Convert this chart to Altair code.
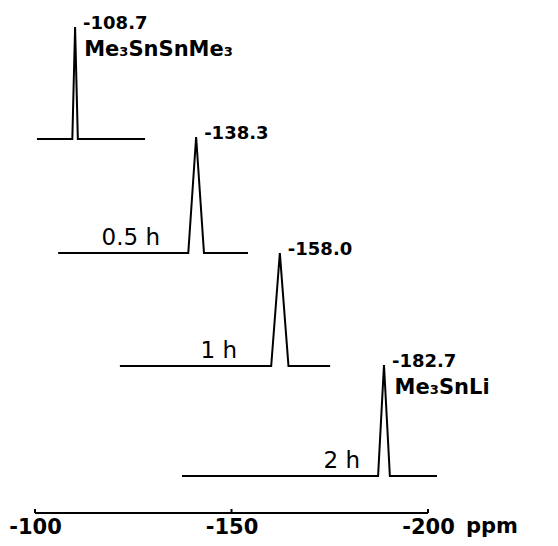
import altair as alt
import pandas as pd

# ---- data (x in ppm on the bottom axis scale, y in arbitrary stack units)
spectrum_ids = [1, 2, 3, 4]
shift_labels = ["-108.7", "-138.3", "-158.0", "-182.7"]
time_labels = ["", "0.5 h", "1 h", "2 h"]
time_label_x = [None, -131.8, -151.4, -182.7]
compound_labels = ["Me₃SnSnMe₃", "", "", "Me₃SnLi"]
compound_x = [-112.5, None, None, -191.5]
compound_y = [463, None, None, 125]
baseline_level = [374, 260, 147, 37]
baseline_start = [-100.5, -105.9, -121.6, -137.4]
baseline_end = [-128.0, -154.2, -175.1, -202.3]
peak_pos = [-110.2, -141.0, -162.3, -188.8]
peak_halfwidth = [0.7, 2.0, 2.2, 1.5]
peak_top = [486, 376, 260, 148]

axis_ticks = [-100, -150, -200]
axis_start, axis_end = -100, -200

# ---- tables built from the arrays
line_rows = []
for i, sid in enumerate(spectrum_ids):
    pts = [
        (baseline_start[i], baseline_level[i]),
        (peak_pos[i] + peak_halfwidth[i], baseline_level[i]),
        (peak_pos[i], peak_top[i]),
        (peak_pos[i] - peak_halfwidth[i], baseline_level[i]),
        (baseline_end[i], baseline_level[i]),
    ]
    for k, (x, y) in enumerate(pts):
        line_rows.append({"spec": sid, "order": k, "ppm": x, "y": y})
lines_df = pd.DataFrame(line_rows)

peaks_df = pd.DataFrame({"ppm": peak_pos, "y": peak_top, "label": shift_labels})
time_df = pd.DataFrame({"ppm": time_label_x, "y": baseline_level, "label": time_labels}).dropna()
time_df = time_df[time_df["label"] != ""]
comp_df = pd.DataFrame({"ppm": compound_x, "y": compound_y, "label": compound_labels}).dropna()
axis_df = pd.DataFrame({"ppm": [axis_start], "ppm2": [axis_end], "y": [0]})
ticks_df = pd.DataFrame({"ppm": axis_ticks, "y": [0] * 3, "y2": [4] * 3})
ppm_df = pd.DataFrame({"ppm": [axis_end], "y": [0], "label": ["ppm"]})

W, H = 393, 503
xscale = alt.Scale(domain=[axis_start, axis_end], nice=False, zero=False)
yscale = alt.Scale(domain=[0, H], nice=False, zero=False)

FONT = "DejaVu Sans"

xaxis = alt.Axis(
    values=axis_ticks, domain=False, ticks=False, grid=False, title=None,
    labelFont=FONT, labelFontWeight="bold", labelFontSize=21, labelColor="black",
    labelPadding=3, labelFlush=False, labelOverlap=False,
    labelExpr="replace(datum.label, '−', '-')",
)

base_y = alt.Y("y:Q", scale=yscale, axis=None)


def X():
    return alt.X("ppm:Q", scale=xscale, axis=xaxis)


spectra = alt.Chart(lines_df).mark_line(color="black", strokeWidth=2).encode(
    x=X(), y=base_y, detail="spec:N", order="order:Q"
)

axis_line = alt.Chart(axis_df).mark_rule(color="black", strokeWidth=2).encode(
    x=X(), x2="ppm2:Q", y=base_y
)

ticks = alt.Chart(ticks_df).mark_rule(color="black", strokeWidth=2).encode(
    x=X(), y=base_y, y2="y2:Q"
)

peak_text = alt.Chart(peaks_df).mark_text(
    align="left", baseline="middle", dx=8, dy=-3, font=FONT, fontWeight="bold", fontSize=18, color="black"
).encode(x=X(), y=base_y, text="label:N")

time_text = alt.Chart(time_df).mark_text(
    align="right", baseline="middle", dy=-15, font=FONT, fontSize=23, color="black"
).encode(x=X(), y=base_y, text="label:N")

comp_text = alt.Chart(comp_df).mark_text(
    align="left", baseline="middle", font=FONT, fontWeight="bold", fontSize=21, color="black"
).encode(x=X(), y=base_y, text="label:N")

ppm_text = alt.Chart(ppm_df).mark_text(
    align="left", baseline="top", dx=38, dy=3, font=FONT, fontWeight="bold", fontSize=21, color="black"
).encode(x=X(), y=base_y, text="label:N")

chart = alt.layer(
    spectra, axis_line, ticks, peak_text, time_text, comp_text, ppm_text
).properties(
    width=W, height=H,
    autosize=alt.AutoSizeParams(type="none"),
    padding={"left": 35, "top": 10, "right": 130, "bottom": 33},
    background="white",
).configure_view(stroke=None)

chart.save("out.html", embed_options={"renderer": "svg", "actions": False})
